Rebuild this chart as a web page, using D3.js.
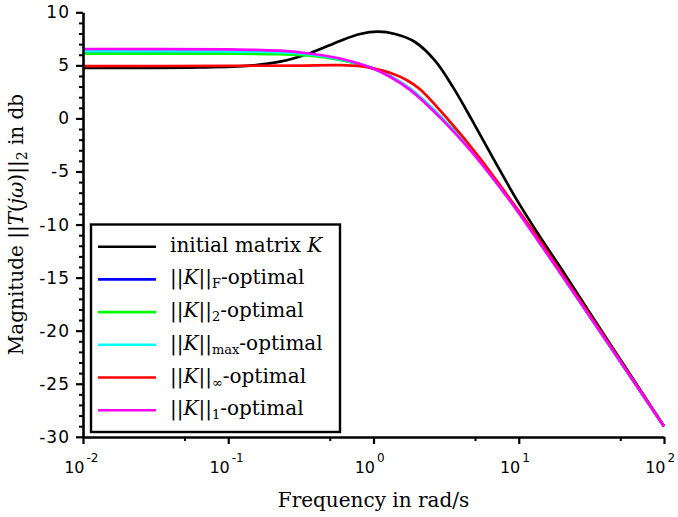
<!DOCTYPE html>
<html>
<head>
<meta charset="utf-8">
<script src="https://cdn.jsdelivr.net/npm/d3@7"></script>
<style>
  body { margin: 0; background: #fff; }
  svg { display: block; }
</style>
</head>
<body>
<div id="chart"></div>
<script>
// readings: frequency (rad/s) and magnitude (dB), one pair of arrays per curve
const freqInitial = [0.01, 0.0639, 0.1411, 0.227, 0.3654, 0.588, 0.807, 1.074, 1.406, 1.931, 2.651, 3.526, 4.766, 6.864, 9.72, 14.0, 20.82, 40.5, 100];
const magInitial = [4.77, 4.80, 4.97, 5.35, 6.15, 7.3, 7.95, 8.17, 7.95, 7.2, 5.45, 2.95, -0.16, -4.07, -7.7, -11.15, -14.7, -20.8, -29.0];

const freqOpt = [0.01, 0.1, 0.227, 0.383, 0.588, 0.992, 1.299, 1.784, 2.948, 4.745, 8.47, 11.95, 19.23, 40.5, 100];
const magFro = [6.22, 6.2, 6.15, 5.95, 5.55, 4.72, 3.98, 2.78, 0.05, -3.05, -7.47, -10.36, -14.5, -21.05, -29.03];
const magTwo = [6.11, 6.1, 6.05, 5.9, 5.52, 4.72, 3.98, 2.78, 0.05, -3.05, -7.47, -10.36, -14.5, -21.05, -29.03];
const magMax = [6.33, 6.31, 6.24, 6.0, 5.58, 4.72, 3.98, 2.78, 0.05, -3.05, -7.47, -10.36, -14.5, -21.05, -29.03];
const magOne = [6.54, 6.5, 6.38, 6.07, 5.65, 4.71, 3.93, 2.69, -0.07, -3.16, -7.55, -10.41, -14.52, -21.05, -29.03];

const freqInf = [0.01, 0.1, 0.3, 0.588, 0.807, 0.992, 1.299, 1.701, 2.09, 3.27, 5.41, 8.71, 12.94, 19.23, 40.5, 100];
const magInf = [4.93, 4.95, 4.98, 5.02, 4.93, 4.72, 4.3, 3.6, 2.75, -0.12, -3.75, -7.6, -10.85, -14.35, -20.95, -29.0];

const yTicks = [-30, -25, -20, -15, -10, -5, 0, 5, 10];
const xTicks = [0.01, 0.1, 1, 10, 100];
const xTickExp = ['-2', '-1', '0', '1', '2'];
const xMinor = [0.05, 0.5, 5, 50];

const series = [
  {f: freqInitial, v: magInitial, color: '#000000', sub: null},
  {f: freqOpt, v: magFro, color: '#0000ff', sub: 'F'},
  {f: freqOpt, v: magTwo, color: '#00ff00', sub: '2'},
  {f: freqOpt, v: magMax, color: '#00ffff', sub: 'max'},
  {f: freqInf, v: magInf, color: '#ff0000', sub: '\u221e'},
  {f: freqOpt, v: magOne, color: '#ff00ff', sub: '1'}
];

const width = 678, height = 517;
const svg = d3.select('#chart').append('svg')
  .attr('width', width)
  .attr('height', height);
svg.append('rect').attr('width', width).attr('height', height).attr('fill', '#fff');

const x = d3.scaleLog().domain([0.01, 100]).range([83, 664]);
const y = d3.scaleLinear().domain([-30, 10]).range([436.8, 12.3]);

const serif = 'DejaVu Serif';
const sans = 'DejaVu Sans';

// curves
series.forEach(s => {
  const line = d3.line()
    .x((d, i) => x(s.f[i]))
    .y(d => y(d))
    .curve(d3.curveCatmullRom.alpha(0.5));
  svg.append('path')
    .attr('d', line(s.v))
    .attr('fill', 'none')
    .attr('stroke', s.color)
    .attr('stroke-width', 2.7);
});

// y axis
const yMinorVals = d3.range(-30, 11, 1).filter(v => v % 5 !== 0);
svg.append('g')
  .attr('transform', 'translate(83,0)')
  .call(d3.axisLeft(y).tickValues(yMinorVals).tickSize(4).tickFormat(''))
  .call(g => g.select('.domain').remove())
  .call(g => g.selectAll('line').attr('stroke-width', 2));

const yAxis = svg.append('g')
  .attr('transform', 'translate(83,0)')
  .call(d3.axisLeft(y).tickValues(yTicks).tickSize(7).tickSizeOuter(0).tickPadding(6)
    .tickFormat(d => String(d)))
  .call(g => g.select('.domain').attr('stroke-width', 2.6))
  .call(g => g.selectAll('line').attr('stroke-width', 2.2));
yAxis.selectAll('text')
  .attr('font-family', sans)
  .attr('font-size', 17)
  .attr('letter-spacing', 1)
  .attr('fill', '#000');

// x axis
svg.append('g')
  .attr('transform', 'translate(0,437)')
  .call(d3.axisBottom(x).tickValues(xMinor).tickSize(4).tickFormat(''))
  .call(g => g.select('.domain').remove())
  .call(g => g.selectAll('line').attr('stroke-width', 2));

const xAxis = svg.append('g')
  .attr('transform', 'translate(0,437)')
  .call(d3.axisBottom(x).tickValues(xTicks).tickSize(7).tickSizeOuter(0).tickFormat(''))
  .call(g => g.select('.domain').attr('stroke-width', 2.6))
  .call(g => g.selectAll('line').attr('stroke-width', 2.2));

xAxis.selectAll('.tick').each(function(d, i) {
  const t = d3.select(this);
  t.append('text')
    .attr('x', 1)
    .attr('y', 36)
    .attr('text-anchor', 'end')
    .attr('font-family', sans)
    .attr('font-size', 16)
    .attr('fill', '#000')
    .text('10');
  t.append('text')
    .attr('x', 3)
    .attr('y', 25)
    .attr('text-anchor', 'start')
    .attr('font-family', sans)
    .attr('font-size', 12)
    .attr('fill', '#000')
    .text(xTickExp[i]);
});

// axis titles
svg.append('text')
  .attr('x', 373.5)
  .attr('y', 507)
  .attr('text-anchor', 'middle')
  .attr('font-family', serif)
  .attr('font-size', 20)
  .text('Frequency in rad/s');

const bars = sel => sel.append('tspan').text('||');

const yTitle = svg.append('text')
  .attr('transform', 'translate(23,224.5) rotate(-90)')
  .attr('text-anchor', 'middle')
  .attr('font-family', serif)
  .attr('font-size', 20);
yTitle.append('tspan').text('Magnitude ');
bars(yTitle);
yTitle.append('tspan').attr('font-style', 'italic').text('T');
yTitle.append('tspan').text('(');
yTitle.append('tspan').attr('font-style', 'italic').text('j\u03c9');
yTitle.append('tspan').text(')');
bars(yTitle);
yTitle.append('tspan').attr('font-size', 14).attr('dy', 4).text('2');
yTitle.append('tspan').attr('dy', -4).text(' in db');

// legend
const legend = svg.append('g');
legend.append('rect')
  .attr('x', 91)
  .attr('y', 224.5)
  .attr('width', 249)
  .attr('height', 207.5)
  .attr('fill', '#fff')
  .attr('stroke', '#000')
  .attr('stroke-width', 2.4);

series.forEach((s, i) => {
  const ry = 246.7 + i * 32.7;
  legend.append('line')
    .attr('x1', 98).attr('x2', 156)
    .attr('y1', ry).attr('y2', ry)
    .attr('stroke', s.color)
    .attr('stroke-width', 2.6);
  const t = legend.append('text')
    .attr('x', 170)
    .attr('y', ry + 5)
    .attr('font-family', serif)
    .attr('font-size', 20)
    .attr('fill', '#000');
  if (s.sub === null) {
    t.append('tspan').text('initial matrix ');
    t.append('tspan').attr('font-style', 'italic').text('K');
  } else {
    bars(t);
    t.append('tspan').attr('font-style', 'italic').text('K');
    bars(t);
    t.append('tspan').attr('font-size', 13).attr('dy', 4).text(s.sub);
    t.append('tspan').attr('dy', -4).text('-optimal');
  }
});
</script>
</body>
</html>
